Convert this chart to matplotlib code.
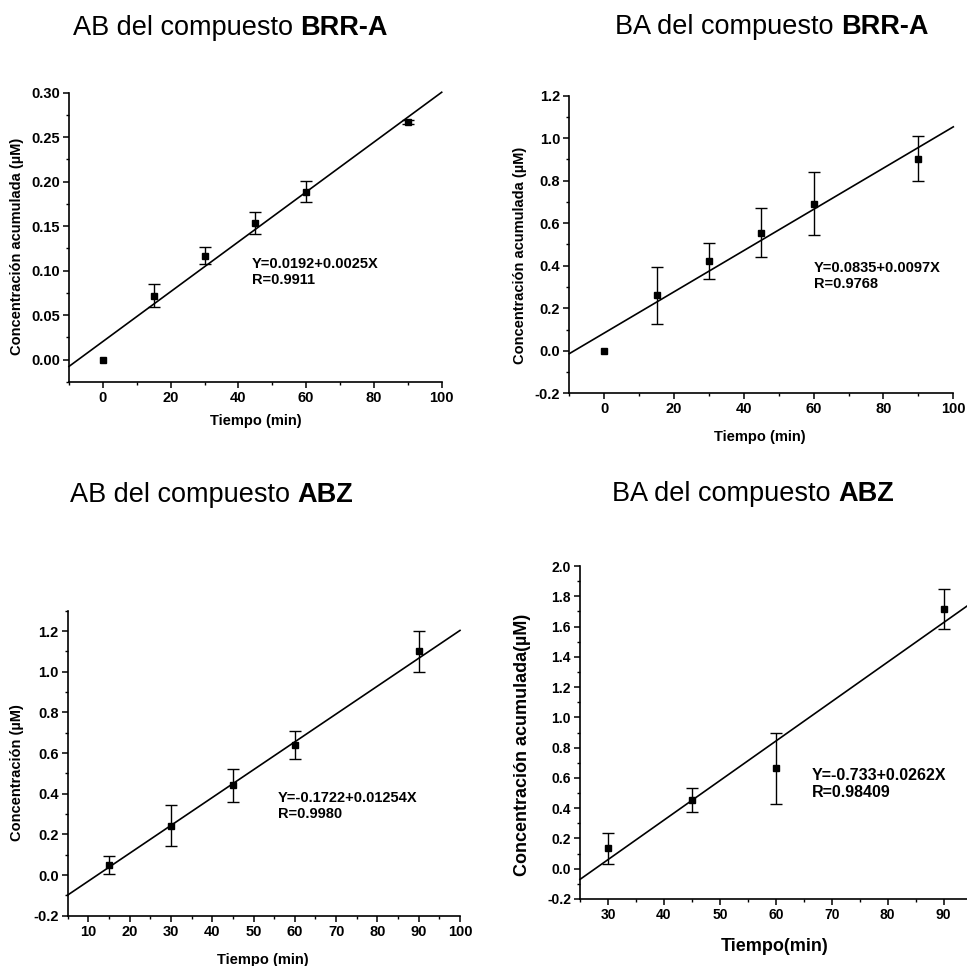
import matplotlib
matplotlib.use('Agg')
import matplotlib.pyplot as plt
from matplotlib.ticker import MultipleLocator, FormatStrFormatter
import numpy as np

plt.rcParams['font.family'] = ['Liberation Sans', 'DejaVu Sans']

# --- datos ---
# AB del compuesto BRR-A
t_ab_brr = [0, 15, 30, 45, 60, 90]
c_ab_brr = [0.000, 0.072, 0.117, 0.154, 0.189, 0.267]
e_ab_brr = [0.000, 0.013, 0.010, 0.0125, 0.012, 0.002]
fit_ab_brr = [0.0205, 0.0028]          # recta dibujada (a, b)

# BA del compuesto BRR-A
t_ba_brr = [0, 15, 30, 45, 60, 90]
c_ba_brr = [0.000, 0.261, 0.423, 0.556, 0.691, 0.903]
e_ba_brr = [0.000, 0.133, 0.086, 0.117, 0.148, 0.106]
fit_ba_brr = [0.0835, 0.0097]

# AB del compuesto ABZ
t_ab_abz = [15, 30, 45, 60, 90]
c_ab_abz = [0.049, 0.243, 0.441, 0.639, 1.100]
e_ab_abz = [0.046, 0.100, 0.080, 0.067, 0.100]
fit_ab_abz = [-0.167, 0.0137]

# BA del compuesto ABZ
t_ba_abz = [30, 45, 60, 90]
c_ba_abz = [0.134, 0.454, 0.665, 1.716]
e_ba_abz = [0.105, 0.082, 0.235, 0.133]
fit_ba_abz = [-0.723, 0.0261]

W, H = 967, 966
fig = plt.figure(figsize=(W / 100, H / 100), dpi=100)


def caja(izq, der, arriba, abajo):
    # posicion en pixeles -> fraccion de figura
    return [izq / W, 1 - abajo / H, (der - izq) / W, (abajo - arriba) / H]


def panel(rect, t, c, e, fit, xlim, ylim, xmaj, xmin, ymaj, ymin, yfmt,
          ylabel, xlabel, texto, pos_texto, ylab_xy, xlab_xy,
          fs_tick=10.5, fs_lab=10.5, fs_txt=10.5):
    ax = fig.add_axes(rect)
    t, c, e = np.array(t), np.array(c), np.array(e)
    con = e > 0
    # puntos sin barra de error (valor cero)
    ax.plot(t[~con], c[~con], 's', color='black', ms=5, clip_on=False,
            zorder=3)
    ax.errorbar(t[con], c[con], yerr=e[con], fmt='s', color='black', ms=5,
                elinewidth=1, capsize=4.5, capthick=1, clip_on=False,
                zorder=3)
    xx = np.array(xlim, dtype=float)
    ax.plot(xx, fit[0] + fit[1] * xx, color='black', lw=1.2, clip_on=False)
    ax.set_xlim(*xlim)
    ax.set_ylim(*ylim)
    for s in ['top', 'right']:
        ax.spines[s].set_visible(False)
    for s in ['left', 'bottom']:
        ax.spines[s].set_linewidth(1.2)
    ax.xaxis.set_major_locator(MultipleLocator(xmaj))
    ax.xaxis.set_minor_locator(MultipleLocator(xmin))
    ax.yaxis.set_major_locator(MultipleLocator(ymaj))
    ax.yaxis.set_minor_locator(MultipleLocator(ymin))
    ax.yaxis.set_major_formatter(FormatStrFormatter(yfmt))
    ax.tick_params(which='major', direction='out', length=4.5, width=1.1,
                   labelsize=fs_tick, pad=2)
    ax.tick_params(which='minor', direction='out', length=2.5, width=1)
    for lab in ax.get_xticklabels() + ax.get_yticklabels():
        lab.set_fontweight('bold')
    ax.set_ylabel(ylabel, fontsize=fs_lab, fontweight='bold')
    ax.set_xlabel(xlabel, fontsize=fs_lab, fontweight='bold')
    ax.yaxis.set_label_coords(*ylab_xy)
    ax.xaxis.set_label_coords(*xlab_xy)
    ax.text(pos_texto[0], pos_texto[1], texto, fontsize=fs_txt,
            fontweight='bold', va='center', ha='left', linespacing=1.2)
    ax.set_facecolor('none')
    return ax


def titulo(x, y, normal, negrita):
    t1 = fig.text(x / W, 1 - y / H, normal, fontsize=19.5, va='baseline',
                  ha='left')
    fig.canvas.draw()
    bb = t1.get_window_extent()
    fig.text(bb.x1 / W, 1 - y / H, negrita, fontsize=19.5,
             fontweight='bold', va='baseline', ha='left')


panel(caja(69, 441.7, 92.7, 382), t_ab_brr, c_ab_brr, e_ab_brr, fit_ab_brr,
      (-10, 100), (-0.025, 0.30), 20, 10, 0.05, 0.025, '%.2f',
      'Concentración acumulada (µM)', 'Tiempo (min)',
      'Y=0.0192+0.0025X\nR=0.9911', (44, 0.099),
      (-0.12, 0.47), (0.5, -0.11))

panel(caja(569.3, 953.3, 95.7, 393.3), t_ba_brr, c_ba_brr, e_ba_brr,
      fit_ba_brr, (-10, 100), (-0.2, 1.2), 20, 10, 0.2, 0.1, '%.1f',
      'Concentración acumulada (µM)', 'Tiempo (min)',
      'Y=0.0835+0.0097X\nR=0.9768', (60, 0.351),
      (-0.11, 0.465), (0.497, -0.123))

panel(caja(67.7, 460, 610.7, 915.7), t_ab_abz, c_ab_abz, e_ab_abz,
      fit_ab_abz, (5, 100), (-0.2, 1.3), 10, 5, 0.2, 0.1, '%.1f',
      'Concentración (µM)', 'Tiempo (min)',
      'Y=-0.1722+0.01254X\nR=0.9980', (55.9, 0.339),
      (-0.111, 0.468), (0.498, -0.122))

# el panel de la derecha queda recortado por el borde de la figura
ax4 = panel(caja(580, 999.5, 566, 899), t_ba_abz, c_ba_abz, e_ba_abz,
            fit_ba_abz, (25, 100), (-0.2, 2.0), 10, 5, 0.2, 0.1, '%.1f',
            'Concentración acumulada(µM)', 'Tiempo(min)',
            'Y=-0.733+0.0262X\nR=0.98409', (66.5, 0.56),
            (-0.117, 0.462), (0.465, -0.117),
            fs_tick=10, fs_lab=13, fs_txt=11.5)
ax4.set_xticks(np.arange(30, 91, 10))
for lab in ax4.get_xticklabels():
    lab.set_fontweight('bold')

titulo(73, 35, 'AB del compuesto ', 'BRR-A')
titulo(615, 34, 'BA del compuesto ', 'BRR-A')
titulo(70, 502, 'AB del compuesto ', 'ABZ')
titulo(612, 501, 'BA del compuesto ', 'ABZ')

fig.savefig('out.png', dpi=100)
